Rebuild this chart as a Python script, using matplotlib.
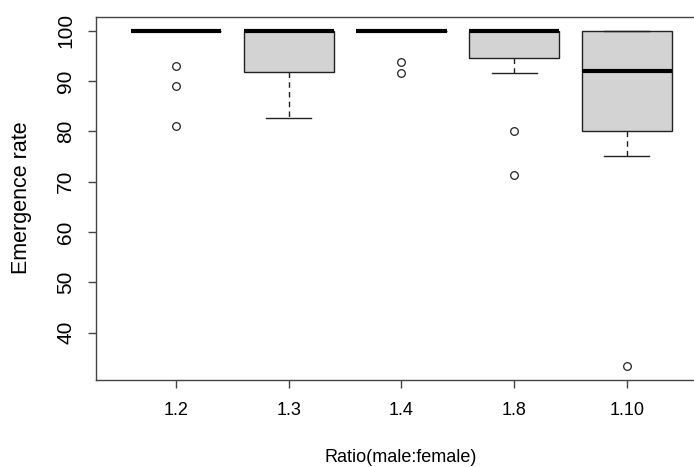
import matplotlib.pyplot as plt

# data (emergence rate, %)
ratios = ['1.2', '1.3', '1.4', '1.8', '1.10']
q1 = [100.0, 91.8, 100.0, 94.5, 80.0]
med = [100.0, 100.0, 100.0, 100.0, 92.0]
q3 = [100.0, 100.0, 100.0, 100.0, 100.0]
whislo = [100.0, 82.7, 100.0, 91.6, 75.1]
whishi = [100.0, 100.0, 100.0, 100.0, 100.0]
fliers = [[92.9, 88.9, 81.0], [], [93.8, 91.6], [80.0, 71.3], [33.3]]

plt.rcParams['font.family'] = ['Liberation Sans', 'DejaVu Sans']
ink = '#222222'

stats = []
for i in range(len(ratios)):
    stats.append({'label': ratios[i], 'q1': q1[i], 'med': med[i], 'q3': q3[i],
                  'whislo': whislo[i], 'whishi': whishi[i], 'fliers': fliers[i]})

fig = plt.figure(figsize=(6.94, 4.67), dpi=100)
ax = fig.add_axes([0.1383, 0.1863, 0.8804, 0.7773])

ax.bxp(stats, widths=0.8, capwidths=0.4, patch_artist=True,
       boxprops=dict(facecolor='#d3d3d3', edgecolor=ink, linewidth=1.0),
       medianprops=dict(color='black', linewidth=3, solid_capstyle='butt'),
       whiskerprops=dict(color=ink, linewidth=1.0, linestyle=(0, (4, 3))),
       capprops=dict(color=ink, linewidth=1.0),
       flierprops=dict(marker='o', markerfacecolor='none', markeredgecolor=ink,
                       markersize=5.5, markeredgewidth=0.9))

ax.set_xlim(0.29, 5.71)
ax.set_ylim(30.6, 102.7)
ax.set_yticks([40, 50, 60, 70, 80, 90, 100])

for s in ax.spines.values():
    s.set_color('#444444')
    s.set_linewidth(1.0)

ax.tick_params(axis='both', direction='out', length=6, width=1.0, color='#444444',
               labelcolor='black')
ax.tick_params(axis='y', pad=9, labelsize=15)
ax.tick_params(axis='x', pad=10, labelsize=13)
for lab in ax.get_yticklabels():
    lab.set_rotation(90)
    lab.set_va('center')
    lab.set_ha('right')

fig.text(401 / 694, 1 - 458 / 467, 'Ratio(male:female)', ha='center', va='center', fontsize=13)
fig.text(22 / 694, 1 - 198 / 467, 'Emergence rate', ha='center', va='center',
         rotation=90, fontsize=15.5)

fig.savefig('out.png', dpi=100)
